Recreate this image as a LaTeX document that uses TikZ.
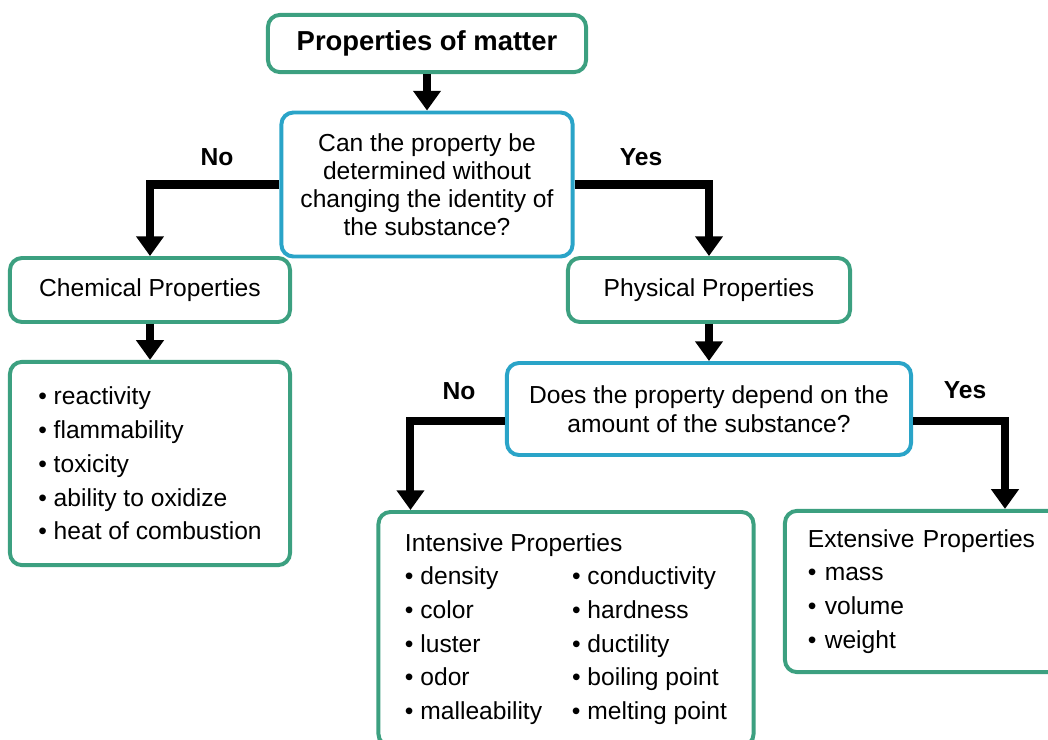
\documentclass[tikz,border=0pt]{standalone}
\usepackage{fontspec}
\setmainfont{Liberation Sans}
\usetikzlibrary{arrows.meta,calc}
\definecolor{boxgreen}{RGB}{60,160,128}
\definecolor{boxblue}{RGB}{42,164,200}

\begin{document}
\begin{tikzpicture}[x=0.025cm,y=-0.025cm,
    greenbox/.style={draw=boxgreen, line width=2.8pt, rounded corners=0.3cm,
      fill=white, inner sep=0pt, font=\fontsize{17.5}{24}\selectfont},
    bluebox/.style={draw=boxblue, line width=2.8pt, rounded corners=0.3cm,
      fill=white, inner sep=0pt, align=center},
    flow/.style={line width=5.7pt, -{Triangle[length=14pt,width=19pt]}},
    answer/.style={font=\fontsize{17.5}{20}\selectfont\bfseries}]
  \useasboundingbox (0,0) rectangle (1048,739);

  % Top and first question
  \node[greenbox, minimum width=7.95cm, minimum height=1.43cm,
    font=\fontsize{19.5}{22}\selectfont\bfseries] (top) at (427,43.5) {Properties of matter};
  \node[bluebox, minimum width=7.28cm, minimum height=3.6cm,
    font=\fontsize{17.5}{20}\selectfont] (q1) at (427,184.5)
    {Can the property be\\determined without\\changing the identity of\\the substance?};

  % Chemical side
  \node[greenbox, minimum width=7cm, minimum height=1.6cm] (chem) at (150,290) {Chemical Properties};
  \node[greenbox, minimum width=7cm, minimum height=5.08cm, align=left] (chemlist) at (150,463.5)
    {• reactivity\\• flammability\\• toxicity\\• ability to oxidize\\• heat of combustion};

  % Physical side
  \node[greenbox, minimum width=7.05cm, minimum height=1.6cm] (phys) at (709,290) {Physical Properties};
  \node[bluebox, minimum width=10.1cm, minimum height=2.3cm,
    font=\fontsize{17.5}{21}\selectfont] (q2) at (709,409)
    {Does the property depend on the\\amount of the substance?};

  \node[greenbox, minimum width=9.375cm, minimum height=5.85cm, align=left] (intens) at (566,629)
    {Intensive Properties\\
     \makebox[4.175cm][l]{• density}• conductivity\\
     \makebox[4.175cm][l]{• color}• hardness\\
     \makebox[4.175cm][l]{• luster}• ductility\\
     \makebox[4.175cm][l]{• odor}• boiling point\\
     \makebox[4.175cm][l]{• malleability}• melting point};
  \node[greenbox, minimum width=7.25cm, minimum height=4.03cm,
    text width=6.1cm, align=left] (extens) at (930,591.5)
    {Extensive Properties\\• mass\\• volume\\• weight};

  % Arrows
  \draw[flow] (top.south) -- (q1.north);
  \draw[flow] (q1.west) -| (chem.north);
  \draw[flow] (q1.east) -| (phys.north);
  \draw[flow] (chem.south) -- (chemlist.north);
  \draw[flow] (phys.south) -- (q2.north);
  \draw[flow] ($(q2.west)+(0,12)$) -| ($(intens.north west)+(34,0)$);
  \draw[flow] ($(q2.east)+(0,12)$) -| ($(extens.north west)+(222,0)$);

  % Answers
  \node[answer] (no1) at (217,157) {No};
  \node[answer] (yes1) at (641,157) {Yes};
  \node[answer] (no2) at (459,391) {No};
  \node[answer] (yes2) at (965,390) {Yes};
\end{tikzpicture}
\end{document}
